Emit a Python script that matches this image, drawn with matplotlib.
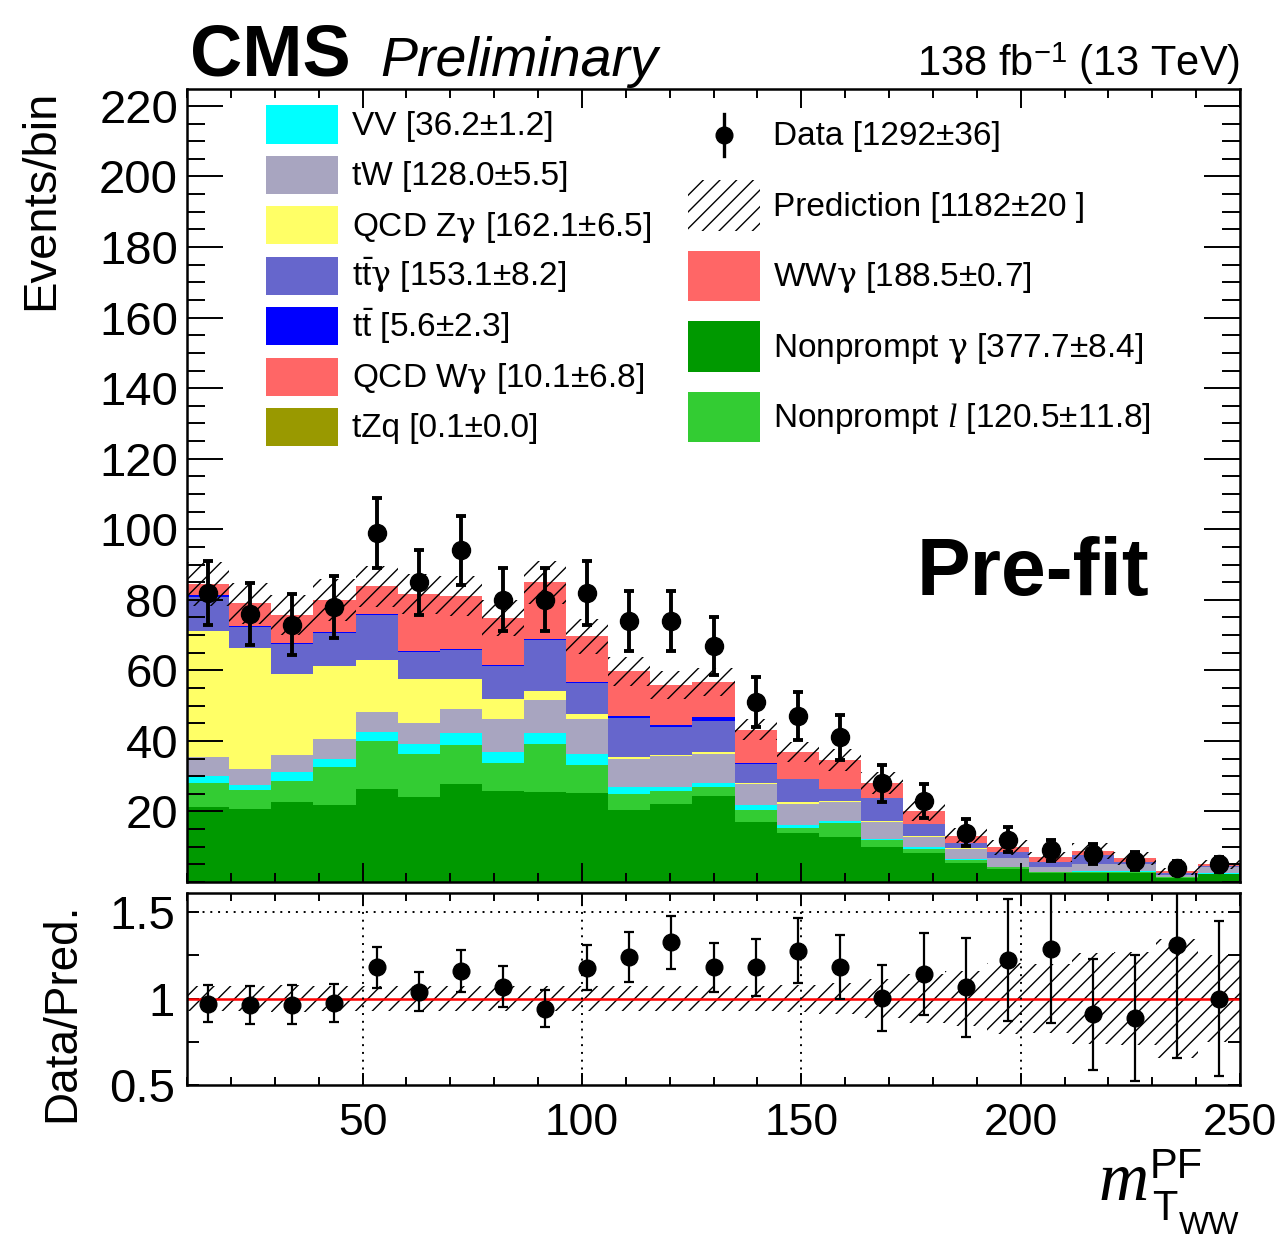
import numpy as np
import matplotlib.pyplot as plt
from matplotlib.patches import Rectangle
from matplotlib.ticker import MultipleLocator

plt.rcParams['font.family'] = ['Liberation Sans', 'DejaVu Sans']
plt.rcParams['mathtext.fontset'] = 'custom'
plt.rcParams['mathtext.rm'] = 'Liberation Sans'
plt.rcParams['mathtext.it'] = 'Liberation Serif:italic'
plt.rcParams['mathtext.sf'] = 'DejaVu Serif'   # upright serif gamma
plt.rcParams['mathtext.bf'] = 'Liberation Sans:bold'
plt.rcParams['hatch.linewidth'] = 1.0

# 25 equal bins in m_T(WW)
x_lo, x_hi, n_bins = 10, 250, 25
edges = np.linspace(x_lo, x_hi, n_bins + 1)
centers = 0.5 * (edges[:-1] + edges[1:])
width = edges[1] - edges[0]

data = np.array([82, 76, 73, 78, 99, 85, 94, 80, 80, 82, 74, 74, 67, 51, 47,
                 41, 28, 23, 14, 12, 9, 8, 6, 4, 5])

# expected yields per process, stacked bottom to top
nonprompt_g = [21.2, 20.6, 22.7, 21.8, 26.4, 24.2, 27.7, 25.9, 25.6, 25.1, 20.4, 22.1, 24.4,
               17.0, 14.0, 12.9, 10.0, 8.1, 5.4, 3.6, 2.5, 2.6, 2.6, 1.2, 2.2]
nonprompt_l = [7.0, 5.5, 6.0, 10.9, 13.7, 12.1, 11.2, 7.9, 13.5, 8.1, 4.6, 3.8, 2.4,
               3.4, 1.3, 3.9, 1.9, 1.4, 0.8, 0.6, 0.3, 0.3, 0.3, 0.2, 0.2]
vv = [1.9, 1.4, 2.6, 2.3, 2.5, 2.9, 3.3, 3.1, 3.1, 3.2, 1.8, 1.1, 1.2,
      1.4, 0.9, 0.6, 0.4, 0.3, 0.2, 0.1, 0.1, 0.1, 0.1, 0.1, 0.1]
tw = [5.4, 4.5, 4.7, 5.6, 5.7, 6.0, 6.8, 9.3, 9.4, 9.8, 8.1, 8.7, 8.4,
      5.9, 5.8, 5.4, 4.8, 3.1, 3.1, 2.4, 1.4, 2.1, 2.1, 0.5, 1.8]
qcd_zg = [35.8, 34.4, 23.1, 20.5, 14.5, 12.4, 8.6, 5.6, 2.6, 1.4, 0.5, 0.2, 0.6,
          0.3, 0.6, 0.1, 0.1, 0.2, 0.1, 0.1, 0.1, 0.1, 0.05, 0.05, 0.1]
ttg = [9.6, 6.0, 8.4, 9.4, 12.8, 7.7, 8.2, 9.5, 14.4, 8.7, 11.0, 8.1, 8.7,
       5.6, 6.6, 3.5, 6.7, 3.3, 1.4, 1.8, 1.4, 2.5, 0.5, 0.5, 0.2]
tt = [0.5, 0.3, 0.3, 0.4, 0.4, 0.2, 0.2, 0.1, 0.3, 0.4, 0.8, 0.4, 1.0,
      0.1, 0.1, 0.1, 0.05, 0.05, 0.05, 0, 0, 0, 0, 0, 0]
qcd_wg = [0.2, 0.2, 0.2, 0.2, 0.3, 3.4, 1.0, 0.3, 3.4, 0.3, 0.2, 0.1, 0.1,
          0.1, 0.1, 0.4, 0.1, 0.1, 0, 0, 0, 0, 0, 0, 0]
tzq = [0, 0, 0, 0, 0.01, 0.02, 0.02, 0.01, 0.02, 0.01, 0, 0, 0,
       0.01, 0, 0.01, 0, 0, 0, 0, 0, 0, 0, 0, 0]
wwg = [2.9, 6.1, 7.8, 8.9, 7.5, 12.8, 14.1, 13.1, 12.6, 12.6, 12.3, 11.4, 10.0,
       9.4, 7.4, 7.8, 3.9, 3.6, 2.1, 1.2, 1.2, 1.1, 1.1, 0.5, 0.4]
pred_unc = np.array([6.3, 5.9, 5.7, 6.0, 5.9, 5.7, 5.7, 5.2, 6.0, 4.9, 4.2, 3.9, 4.0,
                     3.0, 2.9, 3.1, 3.1, 2.8, 2.1, 2.0, 1.4, 2.3, 1.8, 1.05, 1.25])

stack = [(nonprompt_g, '#009900'), (nonprompt_l, '#33cc33'), (vv, '#00ffff'),
         (tw, '#a8a5c0'), (qcd_zg, '#ffff66'), (ttg, '#6666cc'), (tt, '#0000ff'),
         (qcd_wg, '#ff6666'), (tzq, '#999900'), (wwg, '#ff6666')]

g = r'$\mathsf{\gamma}$'
left_entries = [('VV [36.2±1.2]', '#00ffff'),
                ('tW [128.0±5.5]', '#a8a5c0'),
                ('QCD Z' + g + ' [162.1±6.5]', '#ffff66'),
                (r't$\bar{\mathrm{t}}$' + g + ' [153.1±8.2]', '#6666cc'),
                (r't$\bar{\mathrm{t}}$ [5.6±2.3]', '#0000ff'),
                ('QCD W' + g + ' [10.1±6.8]', '#ff6666'),
                ('tZq [0.1±0.0]', '#999900')]
right_entries = [('Data [1292±36]', 'data'),
                 ('Prediction [1182±20 ]', 'hatch'),
                 ('WW' + g + ' [188.5±0.7]', '#ff6666'),
                 ('Nonprompt ' + g + ' [377.7±8.4]', '#009900'),
                 (r'Nonprompt $\mathit{l}$ [120.5±11.8]', '#33cc33')]

fig = plt.figure(figsize=(12.75, 12.43), dpi=100)
ax = fig.add_axes([0.1467, 0.2904, 0.8259, 0.638])
rax = fig.add_axes([0.1467, 0.1271, 0.8259, 0.1545])

# stacked histograms
bottom = np.zeros(n_bins)
for vals, col in stack:
    top = bottom + np.asarray(vals, dtype=float)
    ax.stairs(top, edges, baseline=bottom, fill=True, color=col, lw=0, zorder=1)
    bottom = top
pred = bottom

ax.bar(centers, 2 * pred_unc, width=width, bottom=pred - pred_unc, fill=False,
       hatch='//', edgecolor='black', lw=0, zorder=2)
ax.errorbar(centers, data, yerr=np.sqrt(data), fmt='o', color='black', ms=13,
            elinewidth=2.8, capsize=3.5, capthick=2.8, zorder=3)

ax.set_xlim(x_lo, x_hi)
ax.set_ylim(0, 224.8)
ax.set_yticks(np.arange(20, 221, 20))
ax.xaxis.set_major_locator(MultipleLocator(50))
ax.xaxis.set_minor_locator(MultipleLocator(10))
ax.yaxis.set_minor_locator(MultipleLocator(5))
ax.tick_params(which='both', direction='in', top=True, right=True, labelbottom=False,
               labelsize=34, width=1.4)
ax.tick_params(axis='x', which='major', length=13.5)
ax.tick_params(axis='x', which='minor', length=6.5)
ax.tick_params(axis='y', which='major', length=26, pad=6.5)
ax.tick_params(axis='y', which='minor', length=13)
for sp in ax.spines.values():
    sp.set_linewidth(1.8)

# legends
for i, (lab, col) in enumerate(left_entries):
    yc = 0.9552 - 0.06356 * i
    ax.add_patch(Rectangle((0.075, yc - 0.024), 0.0684, 0.048, transform=ax.transAxes,
                           facecolor=col, lw=0, zorder=5))
    ax.text(0.1567, yc - 0.0132, lab, transform=ax.transAxes, fontsize=24,
            va='baseline', ha='left', zorder=5)

for i, (lab, kind) in enumerate(right_entries):
    yc = 0.942 - 0.0889 * i
    if kind == 'data':
        ax.plot([0.51, 0.51], [yc - 0.027, yc + 0.027], color='black', lw=2.4,
                transform=ax.transAxes, zorder=5)
        ax.plot([0.51], [yc], 'o', color='black', ms=12, transform=ax.transAxes, zorder=5)
    elif kind == 'hatch':
        ax.add_patch(Rectangle((0.4758, yc - 0.032), 0.0684, 0.064, transform=ax.transAxes,
                               fill=False, hatch='//', edgecolor='black', lw=0, zorder=5))
    else:
        ax.add_patch(Rectangle((0.4758, yc - 0.032), 0.0684, 0.064, transform=ax.transAxes,
                               facecolor=kind, lw=0, zorder=5))
    ax.text(0.5565, yc - 0.0132, lab, transform=ax.transAxes, fontsize=24,
            va='baseline', ha='left', zorder=5)

# ratio panel
ratio = data / pred
ratio_err = np.sqrt(data) / pred
rel_unc = pred_unc / pred
rax.bar(centers, 2 * rel_unc, width=width, bottom=1 - rel_unc, fill=False,
        hatch='//', edgecolor='black', lw=0, zorder=1)
rax.axhline(1.0, color='red', lw=1.8, zorder=2)
rax.axhline(1.5, color='black', lw=1.4, ls=(0, (1, 3)), zorder=2)
for xv in (50, 100, 150, 200):
    rax.axvline(xv, color='black', lw=1.4, ls=(0, (1, 3)), zorder=2)
rax.errorbar(centers, ratio, yerr=ratio_err, fmt='o', color='black', ms=12,
             elinewidth=1.6, capsize=3.5, capthick=1.6, zorder=3)

rax.set_xlim(x_lo, x_hi)
rax.set_ylim(0.5, 1.61)
rax.set_yticks([0.5, 1, 1.5])
rax.set_yticklabels(['0.5', '1', '1.5'])
rax.yaxis.set_minor_locator(MultipleLocator(0.25))
rax.xaxis.set_major_locator(MultipleLocator(50))
rax.xaxis.set_minor_locator(MultipleLocator(10))
rax.tick_params(which='both', direction='in', top=True, right=True, labelsize=34, width=1.4)
rax.tick_params(axis='x', which='major', length=9, pad=13, labelsize=32)
rax.tick_params(axis='x', which='minor', length=5.5)
rax.tick_params(axis='y', which='both', length=8.6, pad=8.6)
for sp in rax.spines.values():
    sp.set_linewidth(1.8)

# labels and annotations
fig.text(41 / 1275, 1 - 90 / 1243, 'Events/bin', rotation=90, ha='center', va='top', fontsize=34)
fig.text(62 / 1275, 1 - 1012 / 1243, 'Data/Pred.', rotation=90, ha='center', va='center',
         fontsize=33)
fig.text(190 / 1275, 1 - 76 / 1243, 'CMS', fontsize=52, fontweight='bold', va='baseline')
fig.text(380 / 1275, 1 - 76 / 1243, 'Preliminary', fontsize=40, style='italic', va='baseline')
fig.text(1240 / 1275, 1 - 76 / 1243, r'138 fb$^{-1}$ (13 TeV)', fontsize=30, ha='right',
         va='baseline')
fig.text(917 / 1275, 1 - 595 / 1243, 'Pre-fit', fontsize=58, fontweight='bold', va='baseline')

# x-axis title m_T(WW)^PF built from pieces
fig.text(1098 / 1275, 1 - 1200 / 1243, 'm', family='Liberation Serif', style='italic',
         fontsize=50, va='baseline')
fig.text(1150 / 1275, 1 - 1178 / 1243, 'PF', fontsize=30, va='baseline')
fig.text(1152 / 1275, 1 - 1220 / 1243, 'T', fontsize=30, va='baseline')
fig.text(1179 / 1275, 1 - 1234 / 1243, 'WW', fontsize=23, va='baseline')

fig.savefig('out.png', dpi=100)
